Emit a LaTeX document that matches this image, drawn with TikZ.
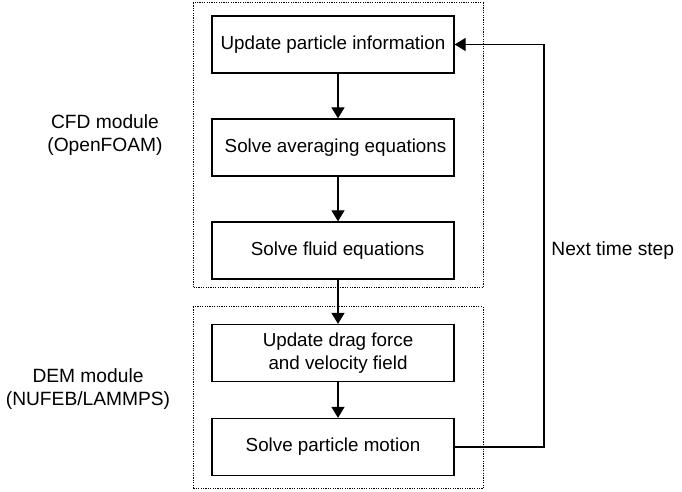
\documentclass[tikz,border=0pt]{standalone}
\usepackage{fontspec}
\setmainfont{Liberation Sans}
\usetikzlibrary{arrows.meta}
\begin{document}
\begin{tikzpicture}[x=0.5pt,y=-0.5pt,
  stepbox/.style={draw,line width=0.65pt,minimum width=121pt,minimum height=28.5pt,inner sep=0pt,font=\fontsize{9.4}{11.5}\selectfont,align=center},
  modbox/.style={draw,line width=0.5pt,dash pattern=on 0.6pt off 0.6pt},
  arr/.style={line width=0.65pt,-{Triangle[length=5.5pt,width=6.5pt]}},
  lbl/.style={font=\fontsize{9.6}{11.5}\selectfont,align=center,inner sep=0pt}]
\useasboundingbox (0,0) rectangle (682,492);
\draw[modbox] (193,3) rectangle (483,288);
\draw[modbox] (193,307) rectangle (483,489);
\node[stepbox] (b1) at (333,44.5) {Update particle information};
\node[stepbox] (b2) at (333,147.5) {\hspace*{2.5pt}Solve averaging equations};
\node[stepbox] (b3) at (333,250.5) {\hspace*{4.6pt}Solve fluid equations};
\node[stepbox] (b4) at (333,353) {\hspace*{5pt}Update drag force\\\hspace*{5pt}and velocity field};
\node[stepbox] (b5) at (333,447) {Solve particle motion};
\coordinate (ax) at (338,0);
\coordinate (fb) at (544,0);
\draw[arr] (b1.south -| ax) -- (b2.north -| ax);
\draw[arr] (b2.south -| ax) -- (b3.north -| ax);
\draw[arr] (b3.south -| ax) -- (b4.north -| ax);
\draw[arr] (b4.south -| ax) -- (b5.north -| ax);
\draw[arr] (b5.east) -- (b5.east -| fb) -- (b1.east -| fb) -- (b1.east);
\node[lbl,anchor=base west] (nts) at (551,256) {Next time step};
\node[lbl] (cfd) at (105,135) {CFD module\\(OpenFOAM)};
\node[lbl] (dem) at (88,389) {DEM module\\(NUFEB/LAMMPS)};
\end{tikzpicture}
\end{document}
